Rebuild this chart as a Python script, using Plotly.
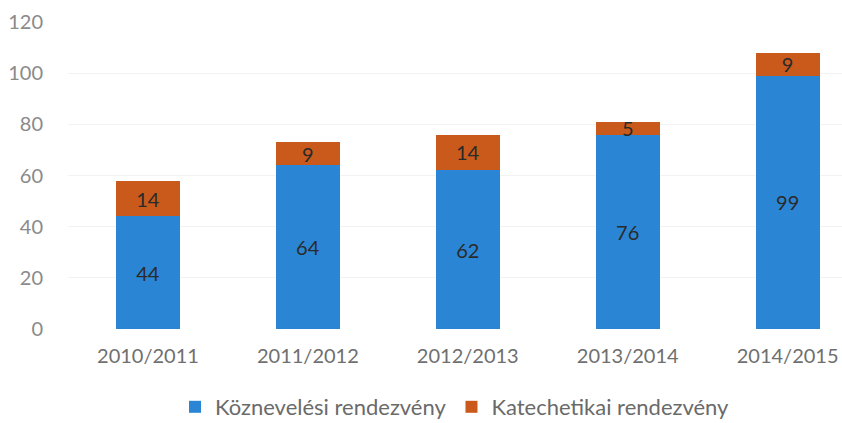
import plotly.graph_objects as go

categories = ["2010/2011", "2011/2012", "2012/2013", "2013/2014", "2014/2015"]
kozneveles = [44, 64, 62, 76, 99]
katechetikai = [14, 9, 14, 5, 9]
y_ticks = [0, 20, 40, 60, 80, 100, 120]

BLUE = "#2a86d4"
ORANGE = "#c95a1c"
FONT = "Lato, 'Open Sans', sans-serif"

fig = go.Figure()
fig.add_trace(go.Bar(
    x=categories, y=kozneveles, name="Köznevelési rendezvény",
    marker=dict(color=BLUE, line=dict(width=0)),
    text=kozneveles, textposition="inside", insidetextanchor="middle", textangle=0,
    textfont=dict(color="#2a2a2a", size=20, family=FONT),
    width=0.4,
))
fig.add_trace(go.Bar(
    x=categories, y=katechetikai, name="Katechetikai rendezvény",
    marker=dict(color=ORANGE, line=dict(width=0)),
    text=katechetikai, textposition="inside", insidetextanchor="middle", textangle=0,
    textfont=dict(color="#2a2a2a", size=20, family=FONT),
    width=0.4,
))

fig.update_layout(
    barmode="stack",
    width=842, height=423,
    margin=dict(l=68, r=0, t=22, b=94),
    paper_bgcolor="white", plot_bgcolor="white",
    font=dict(family=FONT, color="#7a7a7a", size=20),
    uniformtext=dict(mode="show", minsize=20),
    showlegend=True,
    legend=dict(orientation="h", x=0.5, xanchor="center",
                yref="container", y=(423 - 407) / 423, yanchor="middle",
                font=dict(size=22, color="#6a6a6a"), traceorder="normal"),
    xaxis=dict(range=[-0.5, 4.34], showgrid=False, showline=False, ticks="",
               automargin=False, ticklabelstandoff=13,
               tickfont=dict(size=20, color="#6f6f6f")),
    yaxis=dict(range=[0, 120], tickvals=y_ticks, showgrid=True, gridcolor="#f2f2f2",
               zeroline=False, showline=False, ticks="", automargin=False,
               ticklabelstandoff=24,
               tickfont=dict(size=20, color="#8a8a8a")),
)

fig.write_html("out.html", config={"displayModeBar": False},
               post_script="document.body.style.margin='0';document.body.style.overflow='hidden';")
